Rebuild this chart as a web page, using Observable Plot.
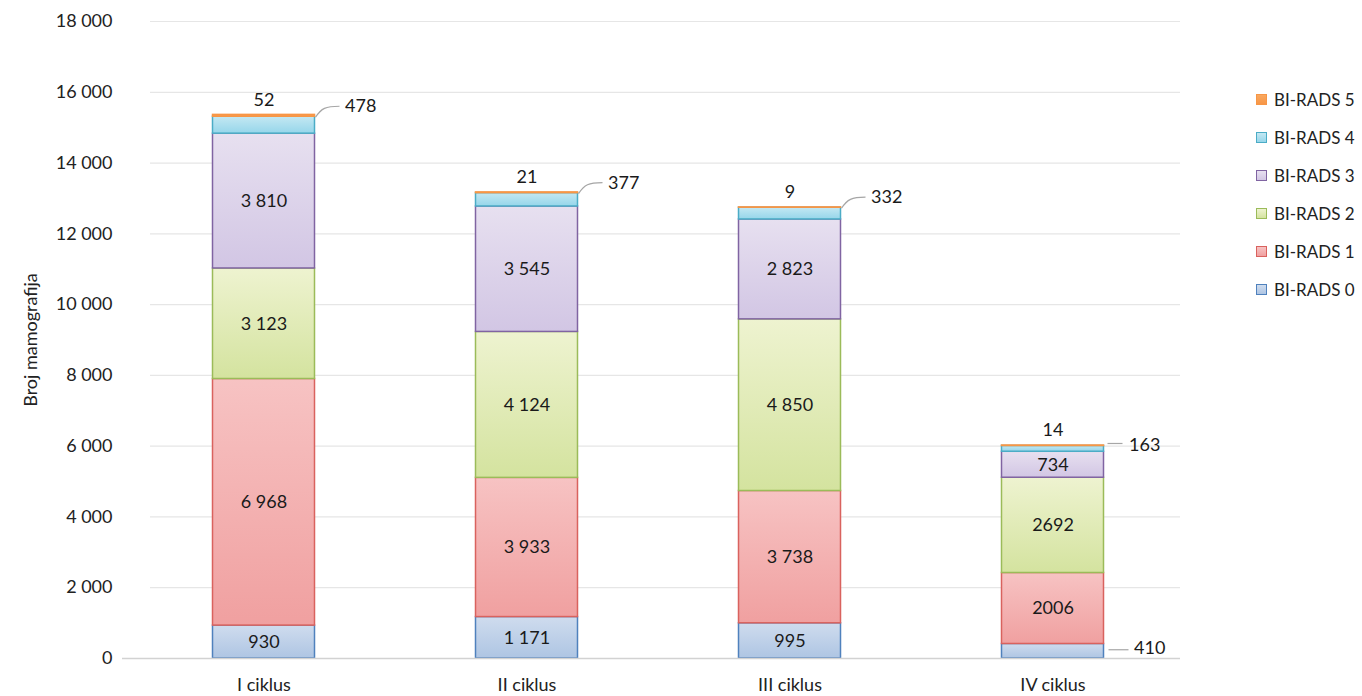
<!DOCTYPE html>
<html>
<head>
<meta charset="utf-8">
<script src="https://cdn.jsdelivr.net/npm/d3@7"></script>
<script src="https://cdn.jsdelivr.net/npm/@observablehq/plot@0.6"></script>
<style>
  body { margin: 0; background: #fff; font-family: Lato, "Open Sans", sans-serif; }
  #wrap { position: relative; width: 1362px; height: 696px; }
  #legend { position: absolute; left: 1256px; top: 80px; }
  .item { display: flex; align-items: center; height: 38px; font-size: 17px; color: #222; white-space: nowrap; }
  .sw { width: 9px; height: 9px; border: 1.5px solid; margin-right: 7px; box-sizing: content-box; }
</style>
</head>
<body>
<svg width="0" height="0" style="position:absolute"><defs id="grads"></defs></svg>
<div id="wrap"><div id="legend"></div></div>
<script>
// ---- data ----
const categories = ["I ciklus", "II ciklus", "III ciklus", "IV ciklus"];
const series = ["BI-RADS 0", "BI-RADS 1", "BI-RADS 2", "BI-RADS 3", "BI-RADS 4", "BI-RADS 5"];
const birads0 = [930, 1171, 995, 410];
const birads1 = [6968, 3933, 3738, 2006];
const birads2 = [3123, 4124, 4850, 2692];
const birads3 = [3810, 3545, 2823, 734];
const birads4 = [478, 377, 332, 163];
const birads5 = [52, 21, 9, 14];
const yTicks = [0, 2000, 4000, 6000, 8000, 10000, 12000, 14000, 16000, 18000];
const yLabel = "Broj mamografija";

// ---- styles ----
const borderColors = ["#4f81bd", "#d9625e", "#9bbb59", "#8064a2", "#4bacc6", "#f79646"];
const gradTop = ["#cfdcee", "#f7c3c3", "#eef3d0", "#e7e0f0", "#c4e8f3", "#f9a860"];
const gradBot = ["#aec5e3", "#f0a0a0", "#d4e39f", "#d2c6e4", "#96d6ea", "#f79646"];

const defs = d3.select("#grads");
series.forEach((s, i) => {
  const g = defs.append("linearGradient").attr("id", "g" + i)
    .attr("x1", 0).attr("y1", 0).attr("x2", 0).attr("y2", 1);
  g.append("stop").attr("offset", "0%").attr("stop-color", gradTop[i]);
  g.append("stop").attr("offset", "100%").attr("stop-color", gradBot[i]);
});

const values = [birads0, birads1, birads2, birads3, birads4, birads5];
const stacked = [];
categories.forEach((c, ci) => {
  let acc = 0;
  series.forEach((s, si) => {
    const v = values[si][ci];
    stacked.push({category: c, ci, series: s, si, value: v, y1: acc, y2: acc + v, mid: acc + v / 2});
    acc += v;
  });
});

const spaced = d3.formatLocale({thousands: " ", grouping: [3], decimal: ","}).format(",d");
const labelOf = d => d.ci === 3 ? String(d.value) : spaced(d.value);

const BAR_HALF = 51;
const inside = stacked.filter(d => d.si <= 3 && !(d.ci === 3 && d.si === 0));
const topLabels = stacked.filter(d => d.si === 5);
const sideLabelsA = stacked.filter(d => d.si === 4 && d.ci < 3);
const sideLabelsB = stacked.filter(d => (d.si === 4 && d.ci === 3));
const sideLabelsC = stacked.filter(d => (d.si === 0 && d.ci === 3));

function leaders(index, scales) {
  const x = scales.x, y = scales.y;
  const bw = typeof x.bandwidth === "function" ? x.bandwidth() : (x.bandwidth || 263);
  const g = d3.create("svg:g").attr("fill", "none").attr("stroke", "#a6a6a6").attr("stroke-width", 1.2);
  for (const d of sideLabelsA) {
    const xr = x(d.category) + bw / 2 + BAR_HALF + 1;
    const y0 = y(d.y2), yl = y0 - 10;
    g.append("path").attr("d", `M${xr},${y0 + 1} C${xr + 6},${yl + 2} ${xr + 10},${yl} ${xr + 24},${yl}`);
  }
  for (const d of sideLabelsB) {
    const xr = x(d.category) + bw / 2 + BAR_HALF + 4;
    const y0 = y(d.y2) - 2;
    g.append("path").attr("d", `M${xr},${y0} L${xr + 15},${y0}`);
  }
  for (const d of sideLabelsC) {
    const xr = x(d.category) + bw / 2 + BAR_HALF + 5;
    const y0 = y(d.mid) - 1;
    g.append("path").attr("d", `M${xr},${y0} L${xr + 20},${y0}`);
  }
  return g.node();
}

const plot = Plot.plot({
  width: 1362,
  height: 696,
  marginLeft: 132,
  marginRight: 178,
  marginTop: 21,
  marginBottom: 38,
  style: {fontFamily: "Lato, 'Open Sans', sans-serif", fontSize: "18px", color: "#222", background: "transparent"},
  x: {domain: categories, padding: 0, label: null},
  y: {domain: [0, 18000], label: null},
  color: {domain: series, range: series.map((s, i) => `url(#g${i})`)},
  marks: [
    Plot.ruleY(yTicks.filter(v => v > 0), {stroke: "#e6e6e6", strokeWidth: 1.2, insetLeft: 18, insetRight: 4}),
    Plot.rectY(stacked, {
      x: "category", y1: "y1", y2: "y2", fill: "series",
      stroke: d => borderColors[d.si], strokeWidth: 1.5,
      insetLeft: 131.5 - BAR_HALF, insetRight: 131.5 - BAR_HALF
    }),
    Plot.ruleY([0], {stroke: "#d2d2d2", strokeWidth: 1.5, insetLeft: -10, insetRight: 4}),
    Plot.text(inside, {x: "category", y: "mid", text: labelOf, fill: "#1a1a1a", fontSize: 18}),
    Plot.text(topLabels, {x: "category", y: "y2", text: labelOf, fill: "#1a1a1a", fontSize: 18, dy: -15}),
    Plot.text(sideLabelsA, {x: "category", y: "y2", text: labelOf, fill: "#1a1a1a", fontSize: 18, textAnchor: "start", dx: BAR_HALF + 30, dy: -10}),
    Plot.text(sideLabelsB, {x: "category", y: "y2", text: labelOf, fill: "#1a1a1a", fontSize: 18, textAnchor: "start", dx: BAR_HALF + 25, dy: -1}),
    Plot.text(sideLabelsC, {x: "category", y: "mid", text: labelOf, fill: "#1a1a1a", fontSize: 18, textAnchor: "start", dx: BAR_HALF + 30, dy: -3}),
    leaders,
    Plot.axisY({
      ticks: yTicks, tickFormat: spaced, tickSize: 0, tickPadding: 20,
      label: yLabel, labelAnchor: "center", labelOffset: 108, labelArrow: "none",
      fontSize: 18, fill: "#222"
    }),
    Plot.axisX({tickSize: 0, tickPadding: 20, label: null, fontSize: 18, fill: "#222"})
  ]
});
document.getElementById("wrap").prepend(plot);

// legend (top to bottom: BI-RADS 5 ... BI-RADS 0)
const legend = d3.select("#legend");
series.slice().reverse().forEach(s => {
  const i = series.indexOf(s);
  const it = legend.append("div").attr("class", "item");
  it.append("div").attr("class", "sw")
    .style("border-color", borderColors[i])
    .style("background", `linear-gradient(${gradTop[i]}, ${gradBot[i]})`);
  it.append("span").text(s);
});
</script>
</body>
</html>
